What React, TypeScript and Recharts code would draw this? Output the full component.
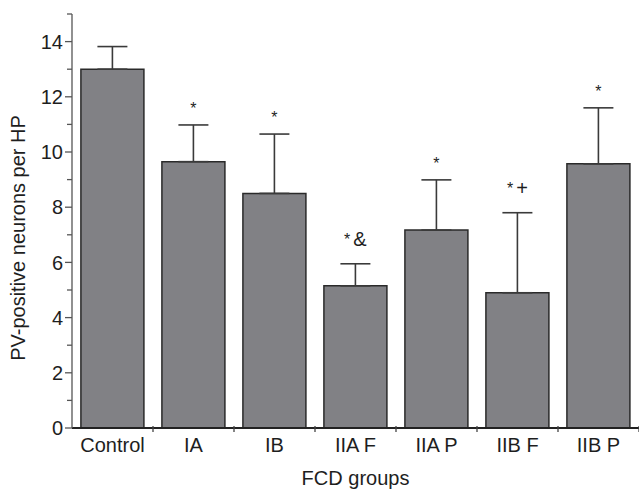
import React from 'react';
import { BarChart, Bar, XAxis, YAxis, ErrorBar, LabelList, Label } from 'recharts';

const groups = ['Control', 'IA', 'IB', 'IIA F', 'IIA P', 'IIB F', 'IIB P'];
const means = [13.0, 9.65, 8.5, 5.15, 7.17, 4.9, 9.57];
const errors = [0.82, 1.33, 2.15, 0.8, 1.82, 2.9, 2.03];
const marks = ['', '*', '*', '*&', '*', '*+', '*'];
const yTicks = [0, 1, 2, 3, 4, 5, 6, 7, 8, 9, 10, 11, 12, 13, 14, 15];

const data = groups.map((g, i) => ({
  group: g,
  mean: means[i],
  err: [0, errors[i]],
  errVal: errors[i],
  mark: marks[i],
}));

const FONT = '"Liberation Sans", Arial, Helvetica, sans-serif';
const TEXT = '#1e1e1e';

const YTick = (props: any) => {
  const { x, y, payload } = props;
  const v = payload.value;
  const major = v % 2 === 0 && v <= 14;
  const axisX = x + 9;
  return (
    <g>
      <line x1={axisX - (major ? 7 : 5)} x2={axisX} y1={y} y2={y} stroke="#555" strokeWidth={1.3} />
      {major && (
        <text x={x} y={y} dy="0.355em" textAnchor="end" fontSize={20} fontFamily={FONT} fill={TEXT}>
          {v}
        </text>
      )}
    </g>
  );
};

const XTick = (props: any) => {
  const { x, y, payload } = props;
  const half = payload && payload.offset ? payload.offset : 40.5;
  const axisY = y - 10;
  return (
    <g>
      <line x1={x + half} x2={x + half} y1={axisY - 2} y2={axisY + 4} stroke="#444" strokeWidth={1.3} />
      <text x={x} y={y} dy="0.71em" textAnchor="middle" fontSize={20} fontFamily={FONT} fill={TEXT}>
        {payload.value}
      </text>
    </g>
  );
};

const MarkLabel = (props: any) => {
  const { x, y, width, height, value, index } = props;
  if (!value) return null;
  const d = data[index];
  const pxPerUnit = height / d.mean;
  const errTop = y - d.errVal * pxPerUnit;
  const cx = x + width / 2;
  if (value.length === 1) {
    return (
      <text x={cx} y={errTop - 11} textAnchor="middle" fontSize={16} fontFamily={FONT} fill={TEXT}>
        *
      </text>
    );
  }
  return (
    <text x={cx} y={errTop - 17.5} textAnchor="middle" fontFamily={FONT} fill={TEXT}>
      <tspan fontSize={16} dy={-1}>*</tspan>
      <tspan fontSize={20} dx={3} dy={1}>{value.slice(1)}</tspan>
    </text>
  );
};

export default function App() {
  return (
    <div
      style={{
        position: 'fixed',
        left: 0,
        top: 0,
        width: 639,
        height: 489,
        overflow: 'hidden',
        background: '#fff',
      }}
    >
      <BarChart
        width={645}
        height={489}
        data={data}
        margin={{ top: 14, right: 6, left: 0, bottom: 0 }}
        barCategoryGap="11%"
      >
        <XAxis
          dataKey="group"
          height={61}
          tickLine={false}
          tickSize={4}
          tickMargin={6}
          tick={<XTick />}
          stroke="#222"
          strokeWidth={2}
          interval={0}
        >
          <Label
            content={(p: any) => {
              const vb = p.viewBox;
              return (
                <text
                  x={vb.x + vb.width / 2}
                  y={vb.y + 57}
                  textAnchor="middle"
                  fontSize={20}
                  fontFamily={FONT}
                  fill={TEXT}
                >
                  FCD groups
                </text>
              );
            }}
          />
        </XAxis>
        <YAxis
          width={72}
          domain={[0, 15]}
          ticks={yTicks}
          interval={0}
          tickLine={false}
          tickSize={7}
          tickMargin={2}
          tick={<YTick />}
          stroke="#555"
          strokeWidth={1.3}
          allowDataOverflow
        >
          <Label
            content={(p: any) => {
              const vb = p.viewBox;
              const cx = vb.x + 25;
              const cy = vb.y + vb.height / 2 + 17;
              return (
                <text
                  x={cx}
                  y={cy}
                  transform={`rotate(-90, ${cx}, ${cy})`}
                  textAnchor="middle"
                  fontSize={20}
                  fontFamily={FONT}
                  fill={TEXT}
                >
                  PV-positive neurons per HP
                </text>
              );
            }}
          />
        </YAxis>
        <Bar dataKey="mean" fill="#818185" stroke="#2a2a2a" strokeWidth={1.5} isAnimationActive={false}>
          <ErrorBar dataKey="err" width={15} stroke="#3a3a3a" strokeWidth={1.6} direction="y" />
          <LabelList dataKey="mark" content={<MarkLabel />} />
        </Bar>
      </BarChart>
    </div>
  );
}
